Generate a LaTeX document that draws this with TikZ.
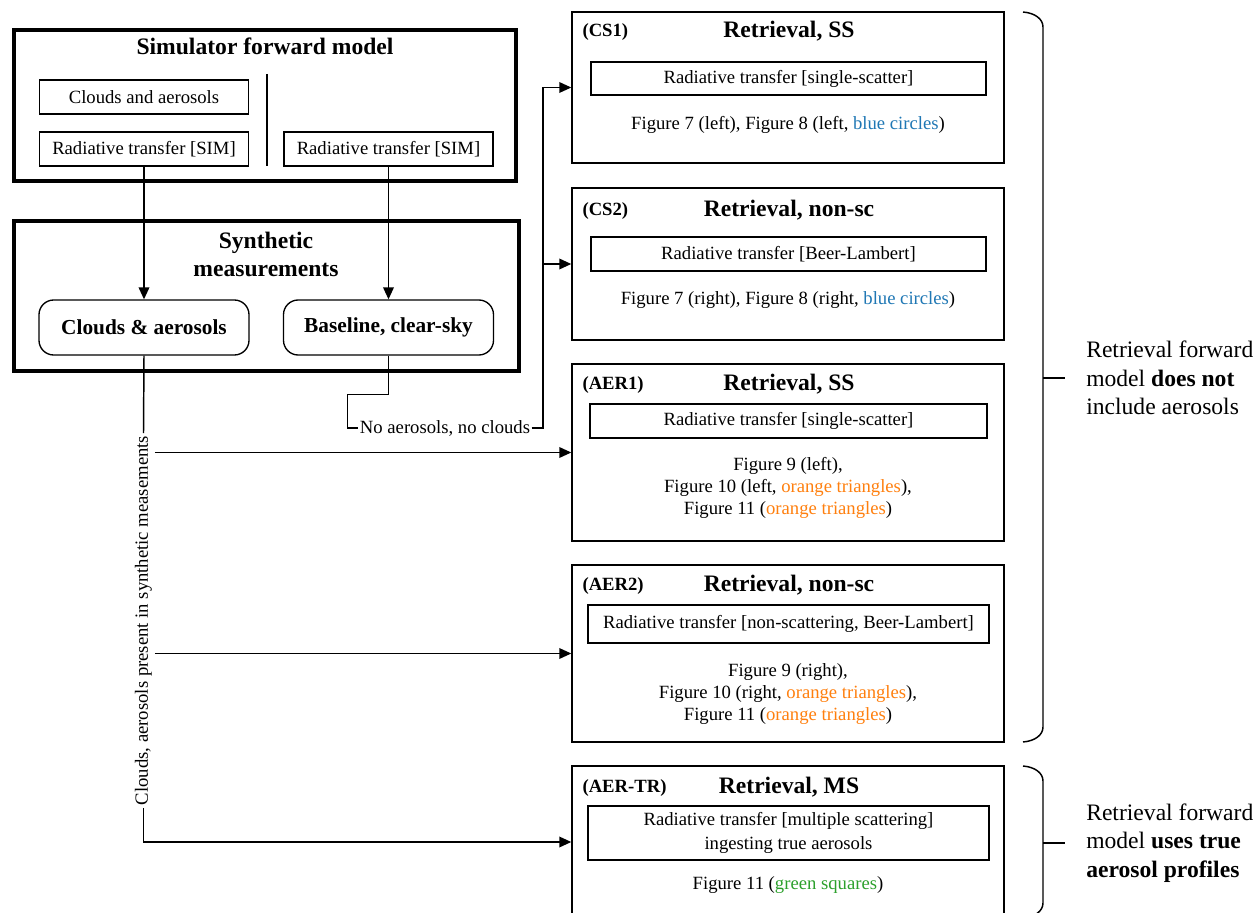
\documentclass[tikz,border=0pt]{standalone}
\usepackage{fontspec}
\setmainfont{Liberation Serif}
\usetikzlibrary{arrows.meta,calc,fit}
\definecolor{mblue}{HTML}{1F77B4}
\definecolor{morange}{HTML}{FF7F0E}
\definecolor{mgreen}{HTML}{2CA02C}
\newcommand\fsz[2]{\fontsize{#1}{#2}\selectfont}
\begin{document}
\begin{tikzpicture}[x=0.75pt,y=-0.75pt,
  bigbox/.style={draw, line width=3.3pt, inner sep=0pt},
  inbox/.style={draw, line width=0.9pt, inner sep=0pt, font=\fsz{14}{17}, align=center},
  retbox/.style={draw, line width=1.1pt, inner sep=0pt, minimum width=432*0.75pt},
  rbox/.style={draw, line width=1pt, rounded corners=11pt, inner sep=0pt, font=\bfseries\fsz{16}{19},
    minimum width=210*0.75pt, minimum height=55*0.75pt},
  ttl/.style={font=\bfseries\fsz{17.7}{21}, inner sep=0pt, align=center},
  tag/.style={font=\bfseries\fsz{14}{17}, inner sep=0pt, anchor=base west, xshift=8.25pt, yshift=1pt},
  txt/.style={font=\fsz{14}{16.5}, inner sep=0pt, align=center},
  side/.style={font=\fsz{17.7}{21.4}, inner sep=0pt, align=left, anchor=west},
  conn/.style={line width=1.1pt},
  arr/.style={conn, -{Triangle[length=9pt,width=8pt]}}]
\useasboundingbox (0,0) rectangle (1258,913);

% ---------------- Simulator forward model ----------------
\node[bigbox, fit={(14,30) (516,181)}] (sim) {};
\node[ttl] (simt) at (265,46) {Simulator forward model};
\node[inbox, minimum width=209*0.75pt, minimum height=34*0.75pt] (cna) at (144,97) {Clouds and aerosols};
\node[inbox, minimum width=209*0.75pt, minimum height=34*0.75pt] (rtl) at (144,149) {Radiative transfer [SIM]};
\node[inbox, minimum width=209*0.75pt, minimum height=34*0.75pt] (rtr) at (388.5,149) {Radiative transfer [SIM]};
\coordinate (divt) at (267,74);
\coordinate (divb) at (267,166);
\draw[line width=0.9pt] (divt) -- (divb);

% ---------------- Synthetic measurements ----------------
\node[bigbox, fit={(14,221) (519,371)}] (syn) {};
\node[ttl] (synt) at (266,254) {Synthetic\\measurements};
\node[rbox] (cas) at (144,327.5) {Clouds \& aerosols};
\node[rbox] (bl) at (388.5,327.5) {Baseline, clear-sky};

\draw[arr] (rtl.south) -- (cas.north);
\draw[arr] (rtr.south) -- (bl.north);

% ---------------- Retrieval boxes ----------------
% CS1
\node[retbox, minimum height=151*0.75pt] (cs1) at (788,87.5) {};
\node[ttl] (cs1t) at (789,31) {Retrieval, SS};
\node[tag] (cs1l) at (cs1t.base -| cs1.west) {(CS1)};
\node[inbox, minimum width=395*0.75pt, minimum height=33*0.75pt] (cs1r) at (788.5,78.5) {Radiative transfer [single-scatter]};
\node[txt] (cs1f) at (788,125) {Figure 7 (left), Figure 8 (left, \textcolor{mblue}{blue circles})};

% CS2
\node[retbox, minimum height=152*0.75pt] (cs2) at (788,264) {};
\node[ttl] (cs2t) at (789,210) {Retrieval, non-sc};
\node[tag] (cs2l) at (cs2t.base -| cs2.west) {(CS2)};
\node[inbox, minimum width=395*0.75pt, minimum height=34*0.75pt] (cs2r) at (788.5,254) {Radiative transfer [Beer-Lambert]};
\node[txt] (cs2f) at (788,300) {Figure 7 (right), Figure 8 (right, \textcolor{mblue}{blue circles})};

% AER1
\node[retbox, minimum height=177*0.75pt] (aer1) at (788,452.5) {};
\node[ttl] (aer1t) at (789,384) {Retrieval, SS};
\node[tag] (aer1l) at (aer1t.base -| aer1.west) {(AER1)};
\node[inbox, minimum width=397*0.75pt, minimum height=34*0.75pt] (aer1r) at (788.5,421) {Radiative transfer [single-scatter]};
\node[txt] (aer1f) at (788,488) {Figure 9 (left),\\Figure 10 (left, \textcolor{morange}{orange triangles}),\\Figure 11 (\textcolor{morange}{orange triangles})};

% AER2
\node[retbox, minimum height=177*0.75pt] (aer2) at (788,653.5) {};
\node[ttl] (aer2t) at (789,585) {Retrieval, non-sc};
\node[tag] (aer2l) at (aer2t.base -| aer2.west) {(AER2)};
\node[inbox, minimum width=401*0.75pt, minimum height=38*0.75pt] (aer2r) at (788.5,624) {Radiative transfer [non-scattering, Beer-Lambert]};
\node[txt] (aer2f) at (788,694) {Figure 9 (right),\\Figure 10 (right, \textcolor{morange}{orange triangles}),\\Figure 11 (\textcolor{morange}{orange triangles})};

% AER-TR
\node[retbox, minimum height=152*0.75pt] (aertr) at (788,842) {};
\node[ttl] (aertrt) at (789,787) {Retrieval, MS};
\node[tag] (aertrl) at (aertrt.base -| aertr.west) {(AER-TR)};
\node[inbox, minimum width=401*0.75pt, minimum height=54*0.75pt, font=\fsz{14}{18}] (aertrr) at (788.5,833) {Radiative transfer [multiple scattering]\\ingesting true aerosols};
\node[txt] (aertrf) at (788,885) {Figure 11 (\textcolor{mgreen}{green squares})};

% ---------------- Connectors ----------------
\node[rotate=90, font=\fsz{14}{17}, inner sep=2pt] (lbl) at (143.5,620.5) {Clouds, aerosols present in synthetic measements};
\draw[conn] (cas.south) -- (lbl.east);
\draw[arr] (lbl.west) |- (aertr.west);
\draw[arr] (lbl.south |- aer1.west) -- (aer1.west);
\draw[arr] (lbl.south |- aer2.west) -- (aer2.west);

\node[font=\fsz{14}{17}, inner sep=1pt] (noa) at (445,428) {No aerosols, no clouds};
\coordinate (jx) at (543,428);
\draw[conn] (bl.south) -- ++(0,39) -| ($(noa.west)+(-11,0)$) -- (noa.west);
\draw[arr] (noa.east) -- (jx) |- (cs1.west);
\draw[arr] (jx |- cs2.west) -- (cs2.west);

% ---------------- Braces ----------------
\coordinate (b1a) at (1023,12);
\coordinate (b1b) at (1023,742);
\coordinate (b1m) at (1043,378);
\draw[conn] (b1a) .. controls (1035,13) and (1043,19) .. (1043,27) -- (1043,727) .. controls (1043,735) and (1035,741) .. (b1b);
\node[side] (s1) at (1086,378) {Retrieval forward\\model \textbf{does not}\\include aerosols};
\draw[conn] (b1m) -- ++(22,0);

\coordinate (b2a) at (1023,766);
\coordinate (b2b) at (1023,918);
\coordinate (b2m) at (1043,843);
\draw[conn] (b2a) .. controls (1035,767) and (1043,773) .. (1043,781) -- (1043,903) .. controls (1043,911) and (1035,917) .. (b2b);
\node[side] (s2) at (1086,843) {Retrieval forward\\model \textbf{uses true}\\\textbf{aerosol profiles}};
\draw[conn] (b2m) -- ++(22,0);
\end{tikzpicture}
\end{document}
